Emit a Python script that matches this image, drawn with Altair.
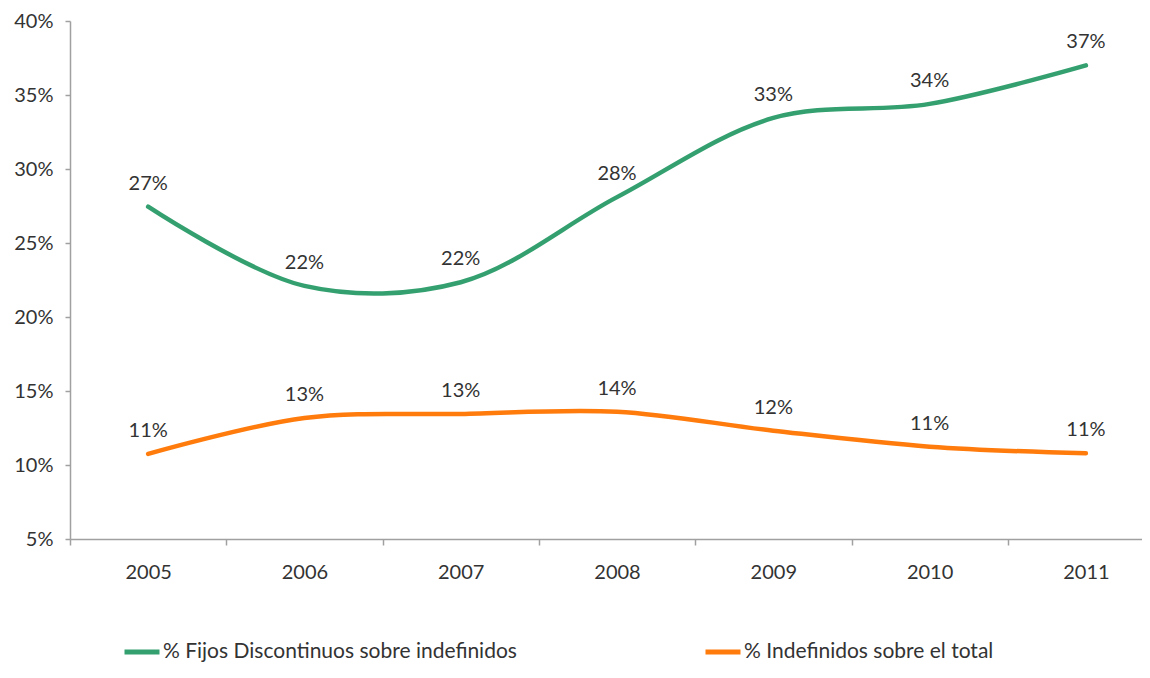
import altair as alt
import pandas as pd

years = [2005, 2006, 2007, 2008, 2009, 2010, 2011]
fijos = [0.2745, 0.2210, 0.2235, 0.2810, 0.3345, 0.3440, 0.3700]
indef = [0.1075, 0.1318, 0.1345, 0.1360, 0.1232, 0.1124, 0.1079]
series = ["% Fijos Discontinuos sobre indefinidos", "% Indefinidos sobre el total"]
colors = ["#34a070", "#ff7b0c"]
y_ticks = [0.05, 0.10, 0.15, 0.20, 0.25, 0.30, 0.35, 0.40]

rows = []
for s, vals in zip(series, [fijos, indef]):
    for yr, v in zip(years, vals):
        rows.append({"year": yr, "value": v, "series": s})
df = pd.DataFrame(rows)

FONT = "Lato"
TXT = "#333333"
AX = "#a0a0a0"

x = alt.X(
    "year:Q",
    scale=alt.Scale(domain=[2004.5, 2011.359], nice=False, zero=False),
    axis=alt.Axis(
        values=years, format="d", title=None, grid=False,
        tickOffset=-78, labelOffset=78, labelFlush=False, labelOverlap=False,
        tickSize=6, labelPadding=17, labelFontSize=20, labelFont=FONT,
        labelColor=TXT, domainColor=AX, tickColor=AX, domainWidth=1.5, tickWidth=1.5,
    ),
)
y = alt.Y(
    "value:Q",
    scale=alt.Scale(domain=[0.05, 0.40], nice=False, zero=False),
    axis=alt.Axis(
        values=y_ticks, format=".0%", title=None, grid=False,
        tickSize=5, labelPadding=12, labelFontSize=20, labelFont=FONT,
        labelColor=TXT, domainColor=AX, tickColor=AX, domainWidth=1.5, tickWidth=1.5,
    ),
)

lines = alt.Chart(df).mark_line(strokeWidth=4.5, interpolate="catmull-rom", strokeCap="round").encode(
    x=x,
    y=y,
    color=alt.Color(
        "series:N",
        scale=alt.Scale(domain=series, range=colors),
        legend=alt.Legend(
            title=None, orient="none", legendX=52, legendY=611, direction="horizontal",
            symbolType="stroke", symbolSize=1225, symbolStrokeWidth=5,
            labelFontSize=21, labelFont=FONT, labelColor=TXT, labelOffset=1,
            columnPadding=178, padding=0, labelLimit=600,
        ),
    ),
    detail="series:N",
)

labels = alt.Chart(df).mark_text(dy=-23, fontSize=20, font=FONT, color=TXT).encode(
    x=alt.X("year:Q"),
    y=alt.Y("value:Q"),
    text=alt.Text("value:Q", format=".0%"),
)

chart = (
    alt.layer(lines, labels)
    .properties(
        width=1072, height=518,
        autosize=alt.AutoSizeParams(type="none"),
        padding={"left": 62, "top": 13, "right": 0, "bottom": 128},
    )
    .configure_view(strokeWidth=0)
)

chart.save("out.html", embed_options={"renderer": "svg", "actions": False})
